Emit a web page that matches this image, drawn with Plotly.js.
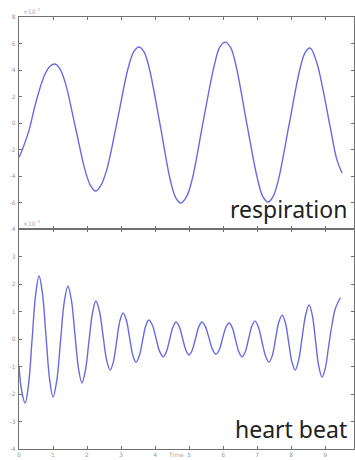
<!DOCTYPE html>
<html>
<head>
<meta charset="utf-8">
<script src="https://cdn.plot.ly/plotly-3.0.1.min.js"></script>
<style>html,body{margin:0;padding:0;background:#fff;}#chart{width:355px;height:460px;}</style>
</head>
<body>
<div id="chart"></div>
<script>
// Respiration signal (x 10^-3)
var respTime = [0, 0.1, 0.3, 0.5, 0.75, 0.92, 1.06, 1.2, 1.36, 1.66, 1.96, 2.12, 2.26, 2.4, 2.58, 2.9, 3.21, 3.38, 3.53, 3.68, 3.84, 4.15, 4.45, 4.61, 4.76, 4.92, 5.09, 5.41, 5.74, 5.9, 6.06, 6.22, 6.38, 6.69, 7.01, 7.17, 7.32, 7.47, 7.63, 7.94, 8.25, 8.41, 8.56, 8.75, 8.94, 9.15, 9.35, 9.5];
var respValue = [-2.6, -2.0, -0.5, 1.6, 3.6, 4.3, 4.45, 4.1, 3.05, -0.34, -3.73, -4.8, -5.13, -4.75, -3.54, 0.3, 4.15, 5.4, 5.74, 5.35, 4.02, -0.15, -4.32, -5.65, -6.04, -5.6, -4.27, 0.03, 4.33, 5.7, 6.1, 5.7, 4.34, 0.07, -4.2, -5.55, -5.96, -5.55, -4.26, -0.15, 3.96, 5.3, 5.66, 4.6, 2.5, -0.3, -2.8, -3.77];

// Heart beat signal (x 10^-3)
var heartTime = [0, 0.08, 0.18, 0.28, 0.385, 0.49, 0.59, 0.69, 0.795, 0.9, 1.0, 1.11, 1.22, 1.33, 1.44, 1.54, 1.645, 1.75, 1.85, 1.95, 2.055, 2.16, 2.26, 2.365, 2.47, 2.575, 2.68, 2.775, 2.87, 2.965, 3.06, 3.155, 3.25, 3.345, 3.44, 3.535, 3.63, 3.725, 3.82, 3.925, 4.03, 4.135, 4.24, 4.335, 4.43, 4.525, 4.62, 4.715, 4.81, 4.905, 5.0, 5.095, 5.19, 5.285, 5.38, 5.48, 5.585, 5.69, 5.79, 5.89, 5.985, 6.08, 6.18, 6.275, 6.37, 6.465, 6.56, 6.655, 6.75, 6.845, 6.94, 7.04, 7.145, 7.25, 7.35, 7.45, 7.545, 7.64, 7.74, 7.835, 7.93, 8.025, 8.12, 8.22, 8.325, 8.43, 8.53, 8.625, 8.72, 8.815, 8.91, 9.0, 9.1, 9.2, 9.3, 9.45];
var heartValue = [-1.0, -1.9, -2.33, -1.66, -0.02, 1.62, 2.29, 1.65, 0.09, -1.47, -2.11, -1.52, -0.09, 1.34, 1.93, 1.41, 0.17, -1.08, -1.6, -1.16, -0.11, 0.94, 1.38, 1.01, 0.13, -0.76, -1.13, -0.83, -0.09, 0.65, 0.95, 0.69, 0.06, -0.58, -0.84, -0.62, -0.08, 0.47, 0.69, 0.49, 0.02, -0.45, -0.65, -0.46, -0.02, 0.43, 0.62, 0.44, 0.02, -0.4, -0.58, -0.4, 0.02, 0.44, 0.62, 0.45, 0.04, -0.38, -0.55, -0.39, 0.02, 0.42, 0.58, 0.4, -0.04, -0.47, -0.65, -0.46, 0, 0.46, 0.65, 0.43, -0.1, -0.62, -0.84, -0.59, 0.02, 0.62, 0.87, 0.58, -0.13, -0.84, -1.13, -0.78, 0.06, 0.89, 1.24, 0.86, -0.07, -1.0, -1.38, -1.1, -0.3, 0.5, 1.1, 1.5];

var xTicks = [0, 1, 2, 3, 4, 5, 6, 7, 8, 9];
var respTicks = [-8, -6, -4, -2, 0, 2, 4, 6, 8];
var respTickText = ["", "-6", "-4", "-2", "0", "2", "4", "6", "8"];
var heartTicks = [-4, -3, -2, -1, 0, 1, 2, 3, 4];
var panelLabels = ["respiration", "heart beat"];

var lineColor = "#6a6ae0";
var axisColor = "#707070";
var tickFont = {family: "DejaVu Sans", size: 6, color: "#999"};

var traces = [
  {x: respTime, y: respValue, xaxis: "x2", yaxis: "y", type: "scatter", mode: "lines",
   line: {color: lineColor, width: 1.4, shape: "spline", smoothing: 1}, hoverinfo: "skip"},
  {x: heartTime, y: heartValue, xaxis: "x", yaxis: "y2", type: "scatter", mode: "lines",
   line: {color: lineColor, width: 1.4, shape: "spline", smoothing: 1}, hoverinfo: "skip"}
];

var axBase = {
  showline: true, linecolor: axisColor, linewidth: 1.2, mirror: "ticks",
  ticks: "inside", ticklen: 3, tickcolor: axisColor, tickwidth: 1,
  showgrid: false, zeroline: false, tickfont: tickFont, fixedrange: true
};
function ax(extra) { return Object.assign({}, axBase, extra); }

var split = 220 / 432;

var layout = {
  width: 355, height: 460,
  margin: {l: 19, r: 1, t: 17, b: 11, pad: 0},
  paper_bgcolor: "#fff", plot_bgcolor: "#fff",
  showlegend: false,
  xaxis: ax({domain: [0, 1], anchor: "y2", range: [0, 9.85], tickvals: xTicks, ticktext: xTicks.map(String), ticklabelstandoff: 0}),
  xaxis2: ax({domain: [0, 1], anchor: "y", range: [0, 9.85], tickvals: xTicks, showticklabels: false}),
  yaxis: ax({domain: [split, 1], anchor: "x2", range: [-8, 8], tickvals: respTicks, ticktext: respTickText, ticklabelstandoff: 1}),
  yaxis2: ax({domain: [0, split], anchor: "x", range: [-4, 4], tickvals: heartTicks, ticktext: heartTicks.map(String), ticklabelstandoff: 1}),
  annotations: [
    {text: panelLabels[0], xref: "paper", yref: "paper", x: 0.985, y: split + 0.005, xanchor: "right", yanchor: "bottom",
     showarrow: false, font: {family: "Noto Sans", size: 23, color: "#222"}},
    {text: panelLabels[1], xref: "paper", yref: "paper", x: 0.985, y: 0.005, xanchor: "right", yanchor: "bottom",
     showarrow: false, font: {family: "Noto Sans", size: 23, color: "#222"}},
    {text: "×10<sup>-3</sup>", xref: "paper", yref: "paper", x: 0.005, y: 1, xanchor: "left", yanchor: "bottom",
     showarrow: false, font: {family: "DejaVu Sans", size: 6, color: "#aaa"}},
    {text: "×10<sup>-3</sup>", xref: "paper", yref: "paper", x: 0.005, y: split, xanchor: "left", yanchor: "bottom",
     showarrow: false, font: {family: "DejaVu Sans", size: 6, color: "#aaa"}},
    {text: "Time", xref: "paper", yref: "paper", x: 0.47, y: -0.0255, xanchor: "center", yanchor: "bottom",
     showarrow: false, font: {family: "DejaVu Sans", size: 6, color: "#aaa"}}
  ]
};

Plotly.newPlot("chart", traces, layout, {staticPlot: true, displayModeBar: false});
</script>
</body>
</html>
